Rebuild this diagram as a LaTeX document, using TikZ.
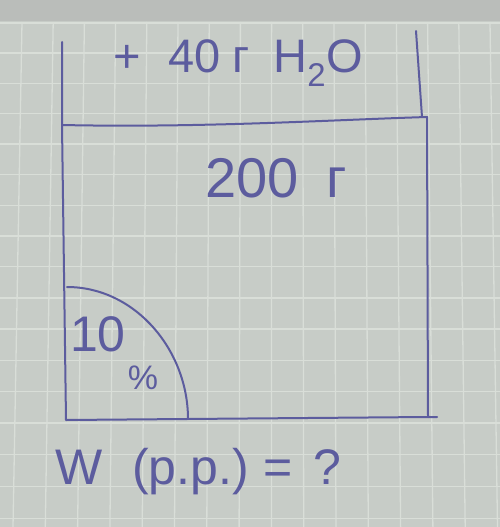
\documentclass[tikz,border=0pt]{standalone}
\usepackage{fontspec}
\setmainfont{Liberation Sans}
\definecolor{paper}{RGB}{199,204,199}
\definecolor{paperedge}{RGB}{186,189,186}
\definecolor{gridc}{RGB}{217,222,216}
\definecolor{inkc}{RGB}{92,92,158}
\begin{document}
\begin{tikzpicture}[x=1pt,y=-1pt,
  ink/.style={draw=inkc, line width=2pt, line cap=round, line join=round},
  lbl/.style={text=inkc, inner sep=0pt, font=\fontsize{47}{52}\selectfont},
  qlbl/.style={text=inkc, inner sep=0pt, font=\fontsize{50}{56}\selectfont},
  biglbl/.style={text=inkc, inner sep=0pt, font=\fontsize{56}{60}\selectfont},
  pctlbl/.style={text=inkc, inner sep=0pt, font=\fontsize{50}{56}\selectfont},
  smalllbl/.style={text=inkc, inner sep=0pt, font=\fontsize{34}{40}\selectfont},
  gridline/.style={draw=gridc, line width=1.3pt}]
\useasboundingbox (0,0) rectangle (500,527);
\fill[paper] (0,0) rectangle (500,527);
\fill[paperedge] (0,0) rectangle (500,21);
% grid (slight perspective)
\foreach \k in {0,...,15} {
  \draw[gridline] ({22+31.2*\k},22) -- ({13+32.3*\k},527);
}
\foreach \k in {0,...,16} {
  \draw[gridline] (0,{23+30*\k+0.06*\k*\k}) -- (500,{23+30*\k+0.06*\k*\k});
}
% vessel
\coordinate (tl0) at (62,42);
\coordinate (tl) at (62,125);
\coordinate (tr0) at (416,31);
\coordinate (trs) at (422,117);
\coordinate (tr) at (427,117);
\coordinate (br) at (428,417);
\coordinate (brx) at (437,417);
\coordinate (bl) at (66,420);
\coordinate (arcA) at (67,287);
\coordinate (arcB) at (188,419);
\draw[ink] (tl0) -- (tl) -- (bl) -- (br) -- (brx);
\draw[ink] (tl) .. controls (200,128) and (330,120) .. (tr);
\draw[ink] (tr0) -- (trs);
\draw[ink] (tr) -- (br);
\draw[ink] (arcA) .. controls (135,287) and (188,350) .. (arcB);
% labels
\node[lbl] (water) at (238,63) {+\hspace{0.6em}40\hspace{0.25em}г\hspace{0.5em}H\textsubscript{2}O};
\node[biglbl] (mass) at (276,178) {200\hspace{0.5em}г};
\node[pctlbl] (conc) at (98,334) {10};
\node[smalllbl] (pct) at (143,378) {\%};
\node[qlbl] (question) at (198,472) {W\hspace{0.6em}(р.р.)\hspace{0.3em}=\hspace{0.4em}?};
\end{tikzpicture}
\end{document}
